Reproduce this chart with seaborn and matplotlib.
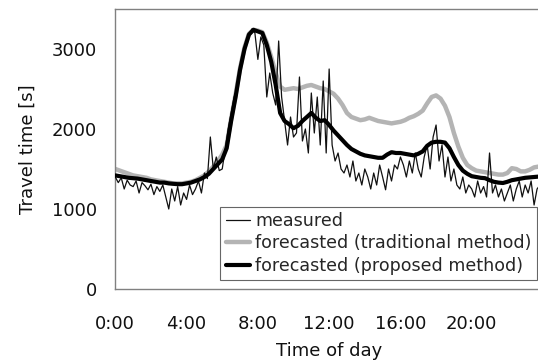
import numpy as np
import pandas as pd
import matplotlib
matplotlib.use("Agg")
import matplotlib.pyplot as plt
import seaborn as sns

# ---- data ----
# measured travel time, 10-minute steps from 0:00 to 24:00
measured_hours = [i / 6 for i in range(145)]
measured = [
    1400, 1330, 1390, 1250, 1360, 1300,
    1280, 1350, 1200, 1330, 1290, 1240,
    1310, 1180, 1280, 1220, 1300, 1150,
    1000, 1250, 1100, 1280, 1050, 1200,
    1120, 1300, 1180, 1250, 1350, 1200,
    1450, 1380, 1900, 1500, 1650, 1480,
    1500, 1750, 2000, 2200, 2400, 2500,
    2750, 2900, 3100, 3150, 3250, 3200,
    2870, 3150, 3050, 2400, 2700, 2450,
    2300, 3100, 2400, 2100, 1800, 2150,
    1900, 1950, 2650, 1850, 2000, 1700,
    2450, 1950, 2400, 1800, 2600, 1700,
    2750, 1800, 1600, 1700, 1500, 1450,
    1550, 1400, 1600, 1350, 1450, 1300,
    1500, 1400, 1250, 1450, 1300, 1550,
    1400, 1240, 1500, 1350, 1550, 1500,
    1650, 1550, 1400, 1600, 1450, 1700,
    1500, 1400, 1650, 1800, 1500, 1900,
    2050, 1600, 1800, 1400, 1650, 1350,
    1500, 1300, 1250, 1400, 1200, 1300,
    1250, 1150, 1350, 1200, 1280, 1150,
    1700, 1200, 1300, 1150, 1250, 1100,
    1200, 1300, 1100, 1250, 1350, 1150,
    1300, 1200, 1350, 1050, 1250, 1300,
    1200,
]

# forecasts, 15-minute steps from 0:00 to 24:00
forecast_hours = [i / 4 for i in range(97)]
traditional = [
    1500, 1480, 1460, 1440, 1420, 1410, 1400, 1390,
    1370, 1360, 1350, 1340, 1330, 1320, 1320, 1320,
    1330, 1340, 1360, 1390, 1420, 1470, 1530, 1600,
    1680, 1800, 2130, 2430, 2760, 3020, 3190, 3240,
    3230, 3210, 3080, 2900, 2700, 2530, 2490, 2500,
    2510, 2500, 2520, 2540, 2550, 2530, 2510, 2500,
    2470, 2440, 2380, 2300, 2200, 2150, 2130, 2110,
    2120, 2140, 2120, 2100, 2090, 2080, 2070, 2080,
    2090, 2110, 2140, 2160, 2190, 2230, 2320, 2400,
    2420, 2380, 2290, 2150, 1950, 1780, 1640, 1550,
    1510, 1480, 1470, 1460, 1450, 1440, 1430, 1430,
    1450, 1510, 1500, 1470, 1470, 1490, 1520, 1530,
    1530,
]
proposed = [
    1420, 1410, 1400, 1390, 1385, 1380, 1370, 1360,
    1350, 1340, 1330, 1330, 1320, 1315, 1310, 1310,
    1320, 1330, 1350, 1370, 1400, 1440, 1500, 1560,
    1620, 1760, 2100, 2400, 2740, 3000, 3180, 3240,
    3220, 3200, 3050, 2840, 2550, 2200, 2100, 2060,
    2010, 2040, 2100, 2150, 2200, 2140, 2100, 2110,
    2050, 1980, 1920, 1860, 1800, 1750, 1720, 1690,
    1670, 1660, 1650, 1640, 1640, 1680, 1710, 1700,
    1700, 1690, 1680, 1670, 1690, 1720, 1790, 1830,
    1840, 1840, 1830, 1760, 1650, 1550, 1480, 1440,
    1410, 1400, 1390, 1385, 1360, 1340, 1330, 1325,
    1340, 1360, 1370, 1380, 1390, 1395, 1400, 1405,
    1410,
]

x_tick_hours = [0, 4, 8, 12, 16, 20]
x_tick_labels = ["0:00", "4:00", "8:00", "12:00", "16:00", "20:00"]
y_ticks = [0, 1000, 2000, 3000]

labels = ["measured", "forecasted (traditional method)", "forecasted (proposed method)"]

# ---- plot ----
sns.set_style("white")
plt.rcParams["font.family"] = ["DejaVu Sans"]

fig = plt.figure(figsize=(5.38, 3.62), dpi=100)
ax = fig.add_axes([115.3 / 538, 73 / 362, (543 - 115.3) / 538, (289 - 9) / 362])

df_m = pd.DataFrame({"hour": measured_hours, "value": measured})
df_t = pd.DataFrame({"hour": forecast_hours, "value": traditional})
df_p = pd.DataFrame({"hour": forecast_hours, "value": proposed})

sns.lineplot(data=df_t, x="hour", y="value", ax=ax, color="#b4b4b4", lw=3.2, zorder=2)
sns.lineplot(data=df_m, x="hour", y="value", ax=ax, color="#111111", lw=0.9, zorder=3)
sns.lineplot(data=df_p, x="hour", y="value", ax=ax, color="#000000", lw=3.0, zorder=4)

ax.set_xlim(0, 24)
ax.set_ylim(0, 3500)
ax.set_xticks(x_tick_hours)
ax.set_xticklabels(x_tick_labels)
ax.set_xticks(list(range(0, 25, 2)), minor=True)
ax.set_yticks(y_ticks)
ax.set_yticklabels([str(v) for v in y_ticks])

ax.tick_params(axis="x", which="both", direction="in", length=6, width=0.8,
               color="#777777", pad=19, labelsize=13, labelcolor="#111111")
ax.tick_params(axis="y", which="both", direction="in", length=6, width=0.8,
               color="#777777", pad=13, labelsize=13, labelcolor="#111111")

for side in ["left", "bottom", "top", "right"]:
    ax.spines[side].set_color("#808080")
    ax.spines[side].set_linewidth(1.0)

ax.set_xlabel("Time of day", fontsize=13, labelpad=6, color="#111111")
ax.set_ylabel("Travel time [s]", fontsize=13, labelpad=11, color="#111111")

handles = ax.get_lines()
h_t, h_m, h_p = handles[0], handles[1], handles[2]
leg = ax.legend([h_m, h_t, h_p], labels, loc="lower right",
                bbox_to_anchor=(537 / 538, (362 - 280) / 362),
                bbox_transform=fig.transFigure,
                fontsize=12.6, frameon=True, fancybox=False, framealpha=1,
                edgecolor="#666666", borderpad=0.3, labelspacing=0.25,
                handlelength=1.4, handletextpad=0.3, borderaxespad=0)
leg.get_frame().set_linewidth(0.8)

fig.savefig("out.png", dpi=100)
